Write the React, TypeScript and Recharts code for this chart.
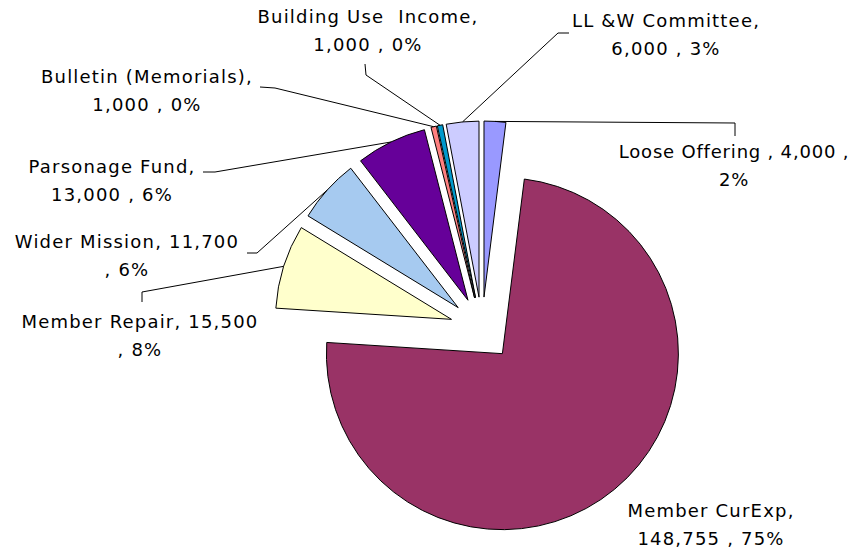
import { PieChart, Pie, Cell, Sector } from 'recharts'

const CATEGORIES = [
  'Loose Offering',
  'Member CurExp',
  'Member Repair',
  'Wider Mission',
  'Parsonage Fund',
  'Bulletin (Memorials)',
  'Building Use  Income',
  'LL &W Committee',
]
const AMOUNTS = [4000, 148755, 15500, 11700, 13000, 1000, 1000, 6000]
const PERCENTS = ['2%', '75%', '8%', '6%', '6%', '0%', '0%', '3%']
const COLORS = [
  '#9999FF',
  '#993366',
  '#FFFFCC',
  '#A6CAF0',
  '#660099',
  '#FF8080',
  '#0099CC',
  '#CCCCFF',
]

const data = CATEGORIES.map((name, i) => ({ name, value: AMOUNTS[i], pct: PERCENTS[i] }))

const W = 853
const H = 554
const CX = 482
const CY = 329
const RADIUS = 176
const EXPLODE = 32 // excel "explosion" distance
const RADIAN = Math.PI / 180
const LINE_H = 28

const textStyle = {
  fontFamily: '"DejaVu Sans", Verdana, sans-serif',
  fontSize: 18,
  letterSpacing: 1.2,
  whiteSpace: 'pre' as const,
}

// where the label text sits and how its leader line bends (hand placed, like in excel)
type Split = 'name' | 'value' | 'tail'
interface LabelLayout {
  x: number
  y: number
  split: Split
  spacing?: number
  leader?: Array<[number, number]>
}

const LABEL_LAYOUT: LabelLayout[] = [
  { x: 734, y: 158, split: 'tail', spacing: 0.8, leader: [[735, 136], [735, 123]] },
  { x: 711, y: 517, split: 'name' },
  { x: 140, y: 328, split: 'value', leader: [[142, 302], [142, 292]] },
  { x: 127, y: 248, split: 'value', leader: [[247, 253], [257, 253]] },
  { x: 112, y: 173, split: 'name', leader: [[203, 172], [215, 172]] },
  { x: 147, y: 83, split: 'name', leader: [[260, 87], [275, 88]] },
  { x: 368, y: 23, split: 'name', leader: [[365, 64], [366, 75]] },
  { x: 666, y: 27, split: 'name', leader: [[569, 33], [558, 33]] },
]

const fmt = (v: number) => v.toLocaleString('en-US')

function labelLines(i: number): [string, string] {
  const d = data[i]
  const split = LABEL_LAYOUT[i].split
  if (split === 'name') return [`${d.name},`, `${fmt(d.value)} , ${d.pct}`]
  if (split === 'value') return [`${d.name}, ${fmt(d.value)}`, `, ${d.pct}`]
  return [`${d.name} , ${fmt(d.value)} ,`, d.pct]
}

const ExplodedSector = (props: any) => {
  const { cx, cy, midAngle } = props
  const dx = EXPLODE * Math.cos(-midAngle * RADIAN)
  const dy = EXPLODE * Math.sin(-midAngle * RADIAN)
  return <Sector {...props} cx={cx + dx} cy={cy + dy} />
}

const renderLabel = (props: any) => {
  const { cx, cy, midAngle, outerRadius, index } = props
  const layout = LABEL_LAYOUT[index]
  const [l1, l2] = labelLines(index)
  // leader ends at the middle of the (exploded) slice's arc
  const r = outerRadius + EXPLODE
  const ex = cx + r * Math.cos(-midAngle * RADIAN)
  const ey = cy + r * Math.sin(-midAngle * RADIAN)
  const pts = layout.leader
    ? [...layout.leader, [ex, ey]].map((p) => p.join(',')).join(' ')
    : null
  const style = layout.spacing != null ? { ...textStyle, letterSpacing: layout.spacing } : textStyle

  return (
    <g key={`label-${index}`}>
      {pts && <polyline points={pts} fill="none" stroke="#000" strokeWidth={1} />}
      <text x={layout.x} y={layout.y} textAnchor="middle" fill="#000" style={style}>
        {l1}
      </text>
      <text x={layout.x} y={layout.y + LINE_H} textAnchor="middle" fill="#000" style={style}>
        {l2}
      </text>
    </g>
  )
}

export default function App() {
  return (
    <div style={{ position: 'absolute', left: 0, top: 0, width: W, height: H, background: '#fff' }}>
      <PieChart width={W} height={H} margin={{ top: 0, right: 0, bottom: 0, left: 0 }}>
        <Pie
          data={data}
          dataKey="value"
          nameKey="name"
          cx={CX}
          cy={CY}
          outerRadius={RADIUS}
          startAngle={90}
          endAngle={-270}
          stroke="#000"
          strokeWidth={1}
          shape={ExplodedSector}
          label={renderLabel}
          labelLine={false}
          isAnimationActive={false}
        >
          {data.map((d, i) => (
            <Cell key={d.name} fill={COLORS[i]} />
          ))}
        </Pie>
      </PieChart>
    </div>
  )
}
